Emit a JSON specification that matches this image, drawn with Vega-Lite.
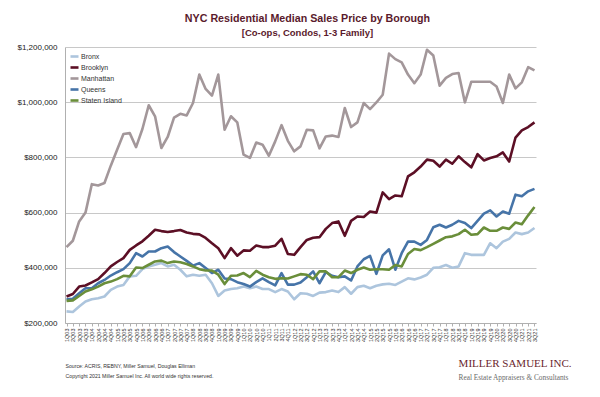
{
  "$schema": "https://vega.github.io/schema/vega-lite/v6.json",
  "width": 471,
  "height": 276,
  "autosize": {"type": "none"},
  "padding": {"left": 65, "top": 47, "right": 64, "bottom": 74},
  "background": "white",
  "config": {
    "view": {"stroke": null},
    "font": "Liberation Sans"
  },
  "title": {
    "text": "NYC Residential Median Sales Price by Borough",
    "subtitle": "[Co-ops, Condos, 1-3 Family]",
    "anchor": "middle",
    "dx": 7,
    "offset": 5,
    "font": "Liberation Sans",
    "fontSize": 10.7,
    "fontWeight": "bold",
    "color": "#5a1a2c",
    "subtitleFont": "Liberation Sans",
    "subtitleFontSize": 9.5,
    "subtitleFontWeight": "bold",
    "subtitleColor": "#5a1a2c",
    "subtitlePadding": 3
  },
  "data": {"values": [
{"q":"1Q03","b":"Bronx","v":242000},{"q":"2Q03","b":"Bronx","v":240000},{"q":"3Q03","b":"Bronx","v":260000},{"q":"4Q03","b":"Bronx","v":278000},
{"q":"1Q04","b":"Bronx","v":286000},{"q":"2Q04","b":"Bronx","v":290000},{"q":"3Q04","b":"Bronx","v":296000},{"q":"4Q04","b":"Bronx","v":320000},
{"q":"1Q05","b":"Bronx","v":332000},{"q":"2Q05","b":"Bronx","v":338000},{"q":"3Q05","b":"Bronx","v":369000},{"q":"4Q05","b":"Bronx","v":371000},
{"q":"1Q06","b":"Bronx","v":395000},{"q":"2Q06","b":"Bronx","v":405000},{"q":"3Q06","b":"Bronx","v":411000},{"q":"4Q06","b":"Bronx","v":417000},
{"q":"1Q07","b":"Bronx","v":405000},{"q":"2Q07","b":"Bronx","v":411000},{"q":"3Q07","b":"Bronx","v":393000},{"q":"4Q07","b":"Bronx","v":369000},
{"q":"1Q08","b":"Bronx","v":375000},{"q":"2Q08","b":"Bronx","v":371000},{"q":"3Q08","b":"Bronx","v":375000},{"q":"4Q08","b":"Bronx","v":344000},
{"q":"1Q09","b":"Bronx","v":298000},{"q":"2Q09","b":"Bronx","v":318000},{"q":"3Q09","b":"Bronx","v":323000},{"q":"4Q09","b":"Bronx","v":326000},
{"q":"1Q10","b":"Bronx","v":332000},{"q":"2Q10","b":"Bronx","v":326000},{"q":"3Q10","b":"Bronx","v":332000},{"q":"4Q10","b":"Bronx","v":323000},
{"q":"1Q11","b":"Bronx","v":323000},{"q":"2Q11","b":"Bronx","v":312000},{"q":"3Q11","b":"Bronx","v":323000},{"q":"4Q11","b":"Bronx","v":314000},
{"q":"1Q12","b":"Bronx","v":286000},{"q":"2Q12","b":"Bronx","v":308000},{"q":"3Q12","b":"Bronx","v":306000},{"q":"4Q12","b":"Bronx","v":298000},
{"q":"1Q13","b":"Bronx","v":310000},{"q":"2Q13","b":"Bronx","v":312000},{"q":"3Q13","b":"Bronx","v":318000},{"q":"4Q13","b":"Bronx","v":312000},
{"q":"1Q14","b":"Bronx","v":330000},{"q":"2Q14","b":"Bronx","v":306000},{"q":"3Q14","b":"Bronx","v":330000},{"q":"4Q14","b":"Bronx","v":335000},
{"q":"1Q15","b":"Bronx","v":326000},{"q":"2Q15","b":"Bronx","v":335000},{"q":"3Q15","b":"Bronx","v":340000},{"q":"4Q15","b":"Bronx","v":342000},
{"q":"1Q16","b":"Bronx","v":338000},{"q":"2Q16","b":"Bronx","v":350000},{"q":"3Q16","b":"Bronx","v":362000},{"q":"4Q16","b":"Bronx","v":358000},
{"q":"1Q17","b":"Bronx","v":365000},{"q":"2Q17","b":"Bronx","v":375000},{"q":"3Q17","b":"Bronx","v":400000},{"q":"4Q17","b":"Bronx","v":402000},
{"q":"1Q18","b":"Bronx","v":410000},{"q":"2Q18","b":"Bronx","v":400000},{"q":"3Q18","b":"Bronx","v":405000},{"q":"4Q18","b":"Bronx","v":453000},
{"q":"1Q19","b":"Bronx","v":447000},{"q":"2Q19","b":"Bronx","v":447000},{"q":"3Q19","b":"Bronx","v":447000},{"q":"4Q19","b":"Bronx","v":489000},
{"q":"1Q20","b":"Bronx","v":471000},{"q":"2Q20","b":"Bronx","v":495000},{"q":"3Q20","b":"Bronx","v":505000},{"q":"4Q20","b":"Bronx","v":528000},
{"q":"1Q21","b":"Bronx","v":522000},{"q":"2Q21","b":"Bronx","v":528000},{"q":"3Q21","b":"Bronx","v":544000},

{"q":"1Q03","b":"Brooklyn","v":296000},{"q":"2Q03","b":"Brooklyn","v":305000},{"q":"3Q03","b":"Brooklyn","v":332000},{"q":"4Q03","b":"Brooklyn","v":336000},
{"q":"1Q04","b":"Brooklyn","v":347000},{"q":"2Q04","b":"Brooklyn","v":359000},{"q":"3Q04","b":"Brooklyn","v":381000},{"q":"4Q04","b":"Brooklyn","v":405000},
{"q":"1Q05","b":"Brooklyn","v":421000},{"q":"2Q05","b":"Brooklyn","v":435000},{"q":"3Q05","b":"Brooklyn","v":465000},{"q":"4Q05","b":"Brooklyn","v":481000},
{"q":"1Q06","b":"Brooklyn","v":496000},{"q":"2Q06","b":"Brooklyn","v":516000},{"q":"3Q06","b":"Brooklyn","v":538000},{"q":"4Q06","b":"Brooklyn","v":533000},
{"q":"1Q07","b":"Brooklyn","v":530000},{"q":"2Q07","b":"Brooklyn","v":533000},{"q":"3Q07","b":"Brooklyn","v":537000},{"q":"4Q07","b":"Brooklyn","v":528000},
{"q":"1Q08","b":"Brooklyn","v":523000},{"q":"2Q08","b":"Brooklyn","v":521000},{"q":"3Q08","b":"Brooklyn","v":508000},{"q":"4Q08","b":"Brooklyn","v":489000},
{"q":"1Q09","b":"Brooklyn","v":471000},{"q":"2Q09","b":"Brooklyn","v":435000},{"q":"3Q09","b":"Brooklyn","v":471000},{"q":"4Q09","b":"Brooklyn","v":444000},
{"q":"1Q10","b":"Brooklyn","v":463000},{"q":"2Q10","b":"Brooklyn","v":462000},{"q":"3Q10","b":"Brooklyn","v":481000},{"q":"4Q10","b":"Brooklyn","v":475000},
{"q":"1Q11","b":"Brooklyn","v":475000},{"q":"2Q11","b":"Brooklyn","v":480000},{"q":"3Q11","b":"Brooklyn","v":505000},{"q":"4Q11","b":"Brooklyn","v":450000},
{"q":"1Q12","b":"Brooklyn","v":447000},{"q":"2Q12","b":"Brooklyn","v":475000},{"q":"3Q12","b":"Brooklyn","v":501000},{"q":"4Q12","b":"Brooklyn","v":509000},
{"q":"1Q13","b":"Brooklyn","v":511000},{"q":"2Q13","b":"Brooklyn","v":541000},{"q":"3Q13","b":"Brooklyn","v":562000},{"q":"4Q13","b":"Brooklyn","v":568000},
{"q":"1Q14","b":"Brooklyn","v":516000},{"q":"2Q14","b":"Brooklyn","v":570000},{"q":"3Q14","b":"Brooklyn","v":586000},{"q":"4Q14","b":"Brooklyn","v":584000},
{"q":"1Q15","b":"Brooklyn","v":604000},{"q":"2Q15","b":"Brooklyn","v":600000},{"q":"3Q15","b":"Brooklyn","v":673000},{"q":"4Q15","b":"Brooklyn","v":649000},
{"q":"1Q16","b":"Brooklyn","v":662000},{"q":"2Q16","b":"Brooklyn","v":659000},{"q":"3Q16","b":"Brooklyn","v":731000},{"q":"4Q16","b":"Brooklyn","v":746000},
{"q":"1Q17","b":"Brooklyn","v":767000},{"q":"2Q17","b":"Brooklyn","v":792000},{"q":"3Q17","b":"Brooklyn","v":788000},{"q":"4Q17","b":"Brooklyn","v":767000},
{"q":"1Q18","b":"Brooklyn","v":792000},{"q":"2Q18","b":"Brooklyn","v":777000},{"q":"3Q18","b":"Brooklyn","v":804000},{"q":"4Q18","b":"Brooklyn","v":783000},
{"q":"1Q19","b":"Brooklyn","v":764000},{"q":"2Q19","b":"Brooklyn","v":812000},{"q":"3Q19","b":"Brooklyn","v":789000},{"q":"4Q19","b":"Brooklyn","v":798000},
{"q":"1Q20","b":"Brooklyn","v":804000},{"q":"2Q20","b":"Brooklyn","v":818000},{"q":"3Q20","b":"Brooklyn","v":785000},{"q":"4Q20","b":"Brooklyn","v":872000},
{"q":"1Q21","b":"Brooklyn","v":898000},{"q":"2Q21","b":"Brooklyn","v":910000},{"q":"3Q21","b":"Brooklyn","v":927000},

{"q":"1Q03","b":"Manhattan","v":475000},{"q":"2Q03","b":"Manhattan","v":498000},{"q":"3Q03","b":"Manhattan","v":568000},{"q":"4Q03","b":"Manhattan","v":600000},
{"q":"1Q04","b":"Manhattan","v":703000},{"q":"2Q04","b":"Manhattan","v":698000},{"q":"3Q04","b":"Manhattan","v":707000},{"q":"4Q04","b":"Manhattan","v":770000},
{"q":"1Q05","b":"Manhattan","v":828000},{"q":"2Q05","b":"Manhattan","v":885000},{"q":"3Q05","b":"Manhattan","v":888000},{"q":"4Q05","b":"Manhattan","v":837000},
{"q":"1Q06","b":"Manhattan","v":903000},{"q":"2Q06","b":"Manhattan","v":989000},{"q":"3Q06","b":"Manhattan","v":949000},{"q":"4Q06","b":"Manhattan","v":834000},
{"q":"1Q07","b":"Manhattan","v":874000},{"q":"2Q07","b":"Manhattan","v":944000},{"q":"3Q07","b":"Manhattan","v":958000},{"q":"4Q07","b":"Manhattan","v":952000},
{"q":"1Q08","b":"Manhattan","v":997000},{"q":"2Q08","b":"Manhattan","v":1100000},{"q":"3Q08","b":"Manhattan","v":1048000},{"q":"4Q08","b":"Manhattan","v":1024000},
{"q":"1Q09","b":"Manhattan","v":1100000},{"q":"2Q09","b":"Manhattan","v":900000},{"q":"3Q09","b":"Manhattan","v":949000},{"q":"4Q09","b":"Manhattan","v":927000},
{"q":"1Q10","b":"Manhattan","v":810000},{"q":"2Q10","b":"Manhattan","v":798000},{"q":"3Q10","b":"Manhattan","v":854000},{"q":"4Q10","b":"Manhattan","v":846000},
{"q":"1Q11","b":"Manhattan","v":806000},{"q":"2Q11","b":"Manhattan","v":858000},{"q":"3Q11","b":"Manhattan","v":917000},{"q":"4Q11","b":"Manhattan","v":860000},
{"q":"1Q12","b":"Manhattan","v":822000},{"q":"2Q12","b":"Manhattan","v":840000},{"q":"3Q12","b":"Manhattan","v":900000},{"q":"4Q12","b":"Manhattan","v":898000},
{"q":"1Q13","b":"Manhattan","v":833000},{"q":"2Q13","b":"Manhattan","v":876000},{"q":"3Q13","b":"Manhattan","v":879000},{"q":"4Q13","b":"Manhattan","v":874000},
{"q":"1Q14","b":"Manhattan","v":979000},{"q":"2Q14","b":"Manhattan","v":910000},{"q":"3Q14","b":"Manhattan","v":927000},{"q":"4Q14","b":"Manhattan","v":997000},
{"q":"1Q15","b":"Manhattan","v":975000},{"q":"2Q15","b":"Manhattan","v":999000},{"q":"3Q15","b":"Manhattan","v":1027000},{"q":"4Q15","b":"Manhattan","v":1176000},
{"q":"1Q16","b":"Manhattan","v":1156000},{"q":"2Q16","b":"Manhattan","v":1144000},{"q":"3Q16","b":"Manhattan","v":1100000},{"q":"4Q16","b":"Manhattan","v":1069000},
{"q":"1Q17","b":"Manhattan","v":1100000},{"q":"2Q17","b":"Manhattan","v":1190000},{"q":"3Q17","b":"Manhattan","v":1169000},{"q":"4Q17","b":"Manhattan","v":1060000},
{"q":"1Q18","b":"Manhattan","v":1088000},{"q":"2Q18","b":"Manhattan","v":1102000},{"q":"3Q18","b":"Manhattan","v":1106000},{"q":"4Q18","b":"Manhattan","v":999000},
{"q":"1Q19","b":"Manhattan","v":1074000},{"q":"2Q19","b":"Manhattan","v":1074000},{"q":"3Q19","b":"Manhattan","v":1074000},{"q":"4Q19","b":"Manhattan","v":1074000},
{"q":"1Q20","b":"Manhattan","v":1057000},{"q":"2Q20","b":"Manhattan","v":997000},{"q":"3Q20","b":"Manhattan","v":1100000},{"q":"4Q20","b":"Manhattan","v":1050000},
{"q":"1Q21","b":"Manhattan","v":1072000},{"q":"2Q21","b":"Manhattan","v":1127000},{"q":"3Q21","b":"Manhattan","v":1115000},

{"q":"1Q03","b":"Queens","v":286000},{"q":"2Q03","b":"Queens","v":288000},{"q":"3Q03","b":"Queens","v":308000},{"q":"4Q03","b":"Queens","v":326000},
{"q":"1Q04","b":"Queens","v":326000},{"q":"2Q04","b":"Queens","v":344000},{"q":"3Q04","b":"Queens","v":356000},{"q":"4Q04","b":"Queens","v":372000},
{"q":"1Q05","b":"Queens","v":384000},{"q":"2Q05","b":"Queens","v":395000},{"q":"3Q05","b":"Queens","v":417000},{"q":"4Q05","b":"Queens","v":453000},
{"q":"1Q06","b":"Queens","v":441000},{"q":"2Q06","b":"Queens","v":459000},{"q":"3Q06","b":"Queens","v":459000},{"q":"4Q06","b":"Queens","v":471000},
{"q":"1Q07","b":"Queens","v":477000},{"q":"2Q07","b":"Queens","v":457000},{"q":"3Q07","b":"Queens","v":441000},{"q":"4Q07","b":"Queens","v":425000},
{"q":"1Q08","b":"Queens","v":408000},{"q":"2Q08","b":"Queens","v":417000},{"q":"3Q08","b":"Queens","v":399000},{"q":"4Q08","b":"Queens","v":381000},
{"q":"1Q09","b":"Queens","v":393000},{"q":"2Q09","b":"Queens","v":361000},{"q":"3Q09","b":"Queens","v":359000},{"q":"4Q09","b":"Queens","v":348000},
{"q":"1Q10","b":"Queens","v":341000},{"q":"2Q10","b":"Queens","v":332000},{"q":"3Q10","b":"Queens","v":348000},{"q":"4Q10","b":"Queens","v":362000},
{"q":"1Q11","b":"Queens","v":348000},{"q":"2Q11","b":"Queens","v":336000},{"q":"3Q11","b":"Queens","v":381000},{"q":"4Q11","b":"Queens","v":339000},
{"q":"1Q12","b":"Queens","v":339000},{"q":"2Q12","b":"Queens","v":347000},{"q":"3Q12","b":"Queens","v":366000},{"q":"4Q12","b":"Queens","v":387000},
{"q":"1Q13","b":"Queens","v":344000},{"q":"2Q13","b":"Queens","v":384000},{"q":"3Q13","b":"Queens","v":371000},{"q":"4Q13","b":"Queens","v":366000},
{"q":"1Q14","b":"Queens","v":369000},{"q":"2Q14","b":"Queens","v":354000},{"q":"3Q14","b":"Queens","v":405000},{"q":"4Q14","b":"Queens","v":431000},
{"q":"1Q15","b":"Queens","v":443000},{"q":"2Q15","b":"Queens","v":378000},{"q":"3Q15","b":"Queens","v":445000},{"q":"4Q15","b":"Queens","v":467000},
{"q":"1Q16","b":"Queens","v":393000},{"q":"2Q16","b":"Queens","v":453000},{"q":"3Q16","b":"Queens","v":495000},{"q":"4Q16","b":"Queens","v":495000},
{"q":"1Q17","b":"Queens","v":483000},{"q":"2Q17","b":"Queens","v":501000},{"q":"3Q17","b":"Queens","v":547000},{"q":"4Q17","b":"Queens","v":556000},
{"q":"1Q18","b":"Queens","v":546000},{"q":"2Q18","b":"Queens","v":556000},{"q":"3Q18","b":"Queens","v":570000},{"q":"4Q18","b":"Queens","v":562000},
{"q":"1Q19","b":"Queens","v":544000},{"q":"2Q19","b":"Queens","v":570000},{"q":"3Q19","b":"Queens","v":596000},{"q":"4Q19","b":"Queens","v":608000},
{"q":"1Q20","b":"Queens","v":586000},{"q":"2Q20","b":"Queens","v":604000},{"q":"3Q20","b":"Queens","v":596000},{"q":"4Q20","b":"Queens","v":665000},
{"q":"1Q21","b":"Queens","v":659000},{"q":"2Q21","b":"Queens","v":677000},{"q":"3Q21","b":"Queens","v":686000},

{"q":"1Q03","b":"Staten Island","v":280000},{"q":"2Q03","b":"Staten Island","v":282000},{"q":"3Q03","b":"Staten Island","v":298000},{"q":"4Q03","b":"Staten Island","v":314000},
{"q":"1Q04","b":"Staten Island","v":322000},{"q":"2Q04","b":"Staten Island","v":332000},{"q":"3Q04","b":"Staten Island","v":344000},{"q":"4Q04","b":"Staten Island","v":350000},
{"q":"1Q05","b":"Staten Island","v":359000},{"q":"2Q05","b":"Staten Island","v":371000},{"q":"3Q05","b":"Staten Island","v":369000},{"q":"4Q05","b":"Staten Island","v":401000},
{"q":"1Q06","b":"Staten Island","v":399000},{"q":"2Q06","b":"Staten Island","v":411000},{"q":"3Q06","b":"Staten Island","v":423000},{"q":"4Q06","b":"Staten Island","v":426000},
{"q":"1Q07","b":"Staten Island","v":417000},{"q":"2Q07","b":"Staten Island","v":423000},{"q":"3Q07","b":"Staten Island","v":420000},{"q":"4Q07","b":"Staten Island","v":414000},
{"q":"1Q08","b":"Staten Island","v":405000},{"q":"2Q08","b":"Staten Island","v":395000},{"q":"3Q08","b":"Staten Island","v":390000},{"q":"4Q08","b":"Staten Island","v":390000},
{"q":"1Q09","b":"Staten Island","v":375000},{"q":"2Q09","b":"Staten Island","v":341000},{"q":"3Q09","b":"Staten Island","v":371000},{"q":"4Q09","b":"Staten Island","v":372000},
{"q":"1Q10","b":"Staten Island","v":381000},{"q":"2Q10","b":"Staten Island","v":366000},{"q":"3Q10","b":"Staten Island","v":389000},{"q":"4Q10","b":"Staten Island","v":375000},
{"q":"1Q11","b":"Staten Island","v":366000},{"q":"2Q11","b":"Staten Island","v":360000},{"q":"3Q11","b":"Staten Island","v":362000},{"q":"4Q11","b":"Staten Island","v":361000},
{"q":"1Q12","b":"Staten Island","v":369000},{"q":"2Q12","b":"Staten Island","v":377000},{"q":"3Q12","b":"Staten Island","v":375000},{"q":"4Q12","b":"Staten Island","v":359000},
{"q":"1Q13","b":"Staten Island","v":387000},{"q":"2Q13","b":"Staten Island","v":387000},{"q":"3Q13","b":"Staten Island","v":366000},{"q":"4Q13","b":"Staten Island","v":366000},
{"q":"1Q14","b":"Staten Island","v":390000},{"q":"2Q14","b":"Staten Island","v":381000},{"q":"3Q14","b":"Staten Island","v":393000},{"q":"4Q14","b":"Staten Island","v":401000},
{"q":"1Q15","b":"Staten Island","v":393000},{"q":"2Q15","b":"Staten Island","v":395000},{"q":"3Q15","b":"Staten Island","v":395000},{"q":"4Q15","b":"Staten Island","v":393000},
{"q":"1Q16","b":"Staten Island","v":410000},{"q":"2Q16","b":"Staten Island","v":405000},{"q":"3Q16","b":"Staten Island","v":450000},{"q":"4Q16","b":"Staten Island","v":468000},
{"q":"1Q17","b":"Staten Island","v":464000},{"q":"2Q17","b":"Staten Island","v":475000},{"q":"3Q17","b":"Staten Island","v":487000},{"q":"4Q17","b":"Staten Island","v":499000},
{"q":"1Q18","b":"Staten Island","v":511000},{"q":"2Q18","b":"Staten Island","v":514000},{"q":"3Q18","b":"Staten Island","v":522000},{"q":"4Q18","b":"Staten Island","v":538000},
{"q":"1Q19","b":"Staten Island","v":520000},{"q":"2Q19","b":"Staten Island","v":522000},{"q":"3Q19","b":"Staten Island","v":546000},{"q":"4Q19","b":"Staten Island","v":534000},
{"q":"1Q20","b":"Staten Island","v":534000},{"q":"2Q20","b":"Staten Island","v":546000},{"q":"3Q20","b":"Staten Island","v":541000},{"q":"4Q20","b":"Staten Island","v":564000},
{"q":"1Q21","b":"Staten Island","v":558000},{"q":"2Q21","b":"Staten Island","v":590000},{"q":"3Q21","b":"Staten Island","v":620000}
  ]},
  "layer": [
    {
      "mark": {"type": "line", "strokeWidth": 2.6, "strokeJoin": "round"},
      "encoding": {
        "x": {
          "field": "q", "type": "ordinal", "sort": null,
          "scale": {"type": "point", "padding": 0.24},
          "axis": {
            "title": ["Source: ACRIS, REBNY, Miller Samuel, Douglas Elliman", "Copyright 2021 Miller Samuel Inc.  All world wide rights reserved."],
            "titleAnchor": "start", "titleAlign": "left", "titleFont": "Liberation Sans",
            "titleFontSize": 5.2, "titleFontWeight": "normal", "titleColor": "#333",
            "titleLineHeight": 10, "titlePadding": 22,
            "labelAngle": -90, "labelFontSize": 5.5, "labelColor": "#333", "labelPadding": 2,
            "labelOverlap": false, "labelBound": false, "labelFont": "Liberation Sans",
            "tickSize": 3, "tickColor": "#b0b0b0", "domainColor": "#b0b0b0", "grid": false
          }
        },
        "y": {
          "field": "v", "type": "quantitative",
          "scale": {"domain": [200000, 1200000], "nice": false, "zero": false},
          "axis": {
            "title": null, "values": [200000, 400000, 600000, 800000, 1000000, 1200000],
            "format": "$,.0f", "labelFontSize": 8, "labelColor": "#222", "labelPadding": 8,
            "labelFont": "Liberation Sans",
            "ticks": false, "domainColor": "#b0b0b0", "gridColor": "#c8c8c8", "gridWidth": 1
          }
        },
        "color": {
          "field": "b", "type": "nominal",
          "scale": {
            "domain": ["Bronx", "Brooklyn", "Manhattan", "Queens", "Staten Island"],
            "range": ["#adc5dd", "#5c0f25", "#a3979a", "#4674a8", "#6a8e3a"]
          },
          "legend": {
            "title": null, "orient": "top-left", "offset": 4,
            "symbolType": "stroke", "symbolSize": 64, "symbolStrokeWidth": 2.6,
            "labelFontSize": 7, "labelColor": "#333", "labelFont": "Liberation Sans",
            "labelOffset": 1, "rowPadding": 0, "padding": 0, "symbolOffset": 0
          }
        }
      }
    },
    {
      "data": {"values": [{"t": "MILLER SAMUEL INC."}]},
      "mark": {"type": "text", "align": "left", "baseline": "alphabetic", "font": "Liberation Serif", "fontSize": 11, "color": "#6b1f2e"},
      "encoding": {
        "x": {"datum": "3Q18", "type": "ordinal"},
        "y": {"datum": 40000, "type": "quantitative"},
        "text": {"field": "t"}
      }
    },
    {
      "data": {"values": [{"t": "Real Estate Appraisers & Consultants"}]},
      "mark": {"type": "text", "align": "left", "baseline": "alphabetic", "font": "Liberation Serif", "fontSize": 7.3, "color": "#6a6a6a"},
      "encoding": {
        "x": {"datum": "3Q18", "type": "ordinal"},
        "y": {"datum": -7000, "type": "quantitative"},
        "text": {"field": "t"}
      }
    }
  ]
}
